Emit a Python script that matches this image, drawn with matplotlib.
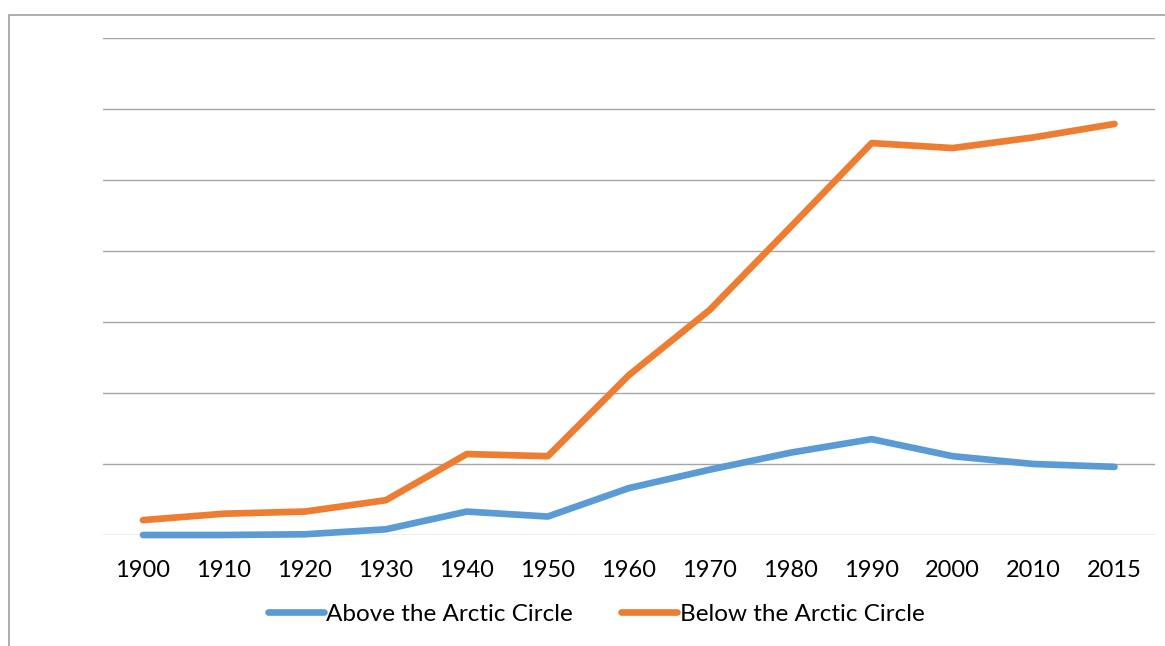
import matplotlib
matplotlib.use("Agg")
import matplotlib.pyplot as plt
from matplotlib.patches import Rectangle

# values in gridline units (axis has no labels)
years = ["1900", "1910", "1920", "1930", "1940", "1950", "1960",
         "1970", "1980", "1990", "2000", "2010", "2015"]
above = [0.0, 0.0, 0.01, 0.08, 0.33, 0.26, 0.66, 0.92, 1.16, 1.35, 1.11, 1.00, 0.96]
below = [0.21, 0.30, 0.33, 0.49, 1.14, 1.11, 2.25, 3.17, 4.34, 5.52, 5.45, 5.60, 5.79]
y_ticks = [0, 1, 2, 3, 4, 5, 6, 7]

BLUE = "#5B9BD5"
ORANGE = "#ED7D31"
GRID = "#A6A6A6"

plt.rcParams["font.family"] = ["Lato", "DejaVu Sans"]

W, H = 1165, 646
fig = plt.figure(figsize=(W / 100, H / 100), dpi=100)
ax = fig.add_axes([102.5 / W, 1 - 535 / H, (1155 - 102.5) / W, (535 - 38) / H])

# outer chart frame (top and left edges visible)
fig.patches.append(Rectangle((8.5 / W, -0.1), 1.2, 1 - 14.5 / H + 0.1,
                             transform=fig.transFigure, fill=False,
                             edgecolor="#A0A0A0", linewidth=1.2))

x = list(range(len(years)))
ax.plot(x, above, color=BLUE, lw=4.8, solid_capstyle="round",
        solid_joinstyle="round", label="Above the Arctic Circle",
        zorder=3, clip_on=False)
ax.plot(x, below, color=ORANGE, lw=4.8, solid_capstyle="round",
        solid_joinstyle="round", label="Below the Arctic Circle",
        zorder=3, clip_on=False)

ax.set_xlim(-0.5, len(years) - 0.5)
ax.set_ylim(0, 7)
ax.set_yticks(y_ticks)
ax.set_yticklabels([])
ax.set_xticks(x)
ax.set_xticklabels(years, fontsize=17)
ax.tick_params(axis="both", length=0)
ax.tick_params(axis="x", pad=18)
ax.grid(axis="y", color=GRID, lw=1.0)
for s in ax.spines.values():
    s.set_visible(False)

fig.legend(loc="center", bbox_to_anchor=(596 / W, 1 - 614 / H), ncol=2,
           frameon=False, fontsize=17.5, handlelength=2.3, handletextpad=0.1,
           columnspacing=2.0)

fig.savefig("out.png", dpi=100)
